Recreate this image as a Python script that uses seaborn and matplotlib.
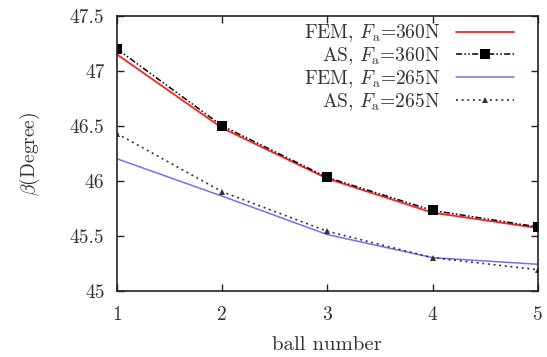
import matplotlib
matplotlib.use("Agg")
import matplotlib.pyplot as plt
import seaborn as sns
import pandas as pd

balls = [1, 2, 3, 4, 5]
fem_360 = [47.15, 46.48, 46.02, 45.71, 45.57]
as_360 = [47.20, 46.50, 46.03, 45.73, 45.58]
fem_265 = [46.20, 45.86, 45.51, 45.30, 45.24]
as_265 = [46.43, 45.90, 45.54, 45.30, 45.19]
xticks = [1, 2, 3, 4, 5]
yticks = [45, 45.5, 46, 46.5, 47, 47.5]
ytick_labels = ["45", "45.5", "46", "46.5", "47", "47.5"]

sns.set_theme(style="ticks")
plt.rcParams['font.family'] = ['cmr10', 'DejaVu Serif']
plt.rcParams['mathtext.fontset'] = 'cm'
plt.rcParams['axes.unicode_minus'] = False

fig, ax = plt.subplots(figsize=(5.47, 3.57), dpi=100)
fig.subplots_adjust(left=0.214, right=0.983, top=0.955, bottom=0.186)

sns.lineplot(x=balls, y=fem_360, ax=ax, color="#ff2020", lw=1.3,
             label=r"FEM, $F_\mathrm{a}$=360N")
sns.lineplot(x=balls, y=as_360, ax=ax, color="black", lw=1.1,
             marker="s", markersize=6.5, markeredgewidth=0,
             dashes=(4, 1.5, 1, 1.5, 1, 1.5), label=r"AS, $F_\mathrm{a}$=360N")
sns.lineplot(x=balls, y=fem_265, ax=ax, color="#7070ff", lw=1.1,
             label=r"FEM, $F_\mathrm{a}$=265N")
sns.lineplot(x=balls, y=as_265, ax=ax, color="#333333", lw=1.2,
             marker="^", markersize=5, markeredgewidth=0,
             dashes=(1.2, 2.2), label=r"AS, $F_\mathrm{a}$=265N")

ax.set_xlim(1, 5)
ax.set_ylim(45, 47.5)
ax.set_xticks(xticks)
ax.set_xticklabels([str(v) for v in xticks])
ax.set_yticks(yticks)
ax.set_yticklabels(ytick_labels)
ax.tick_params(direction="in", length=5, width=1, top=True, right=True,
               labelsize=14, colors="#222222", labelcolor="#333333")
ax.tick_params(axis="x", pad=11)
ax.tick_params(axis="y", pad=9)
for s in ax.spines.values():
    s.set_linewidth(1.2)
    s.set_color("#222222")
ax.set_xlabel("ball number", fontsize=15, color="#333333", labelpad=9)
ax.set_ylabel(r"$\beta$(Degree)", fontsize=14, color="#333333", labelpad=20)

leg = ax.legend(loc="upper right", frameon=False, markerfirst=False,
                fontsize=14, handlelength=3.0, handletextpad=0.8,
                labelspacing=0.05, borderaxespad=0.0,
                bbox_to_anchor=(0.962, 1.005))
for t in leg.get_texts():
    t.set_ha("right")
    t.set_color("#333333")
leg._legend_box.align = "right"

fig.savefig("out.png", dpi=100)
